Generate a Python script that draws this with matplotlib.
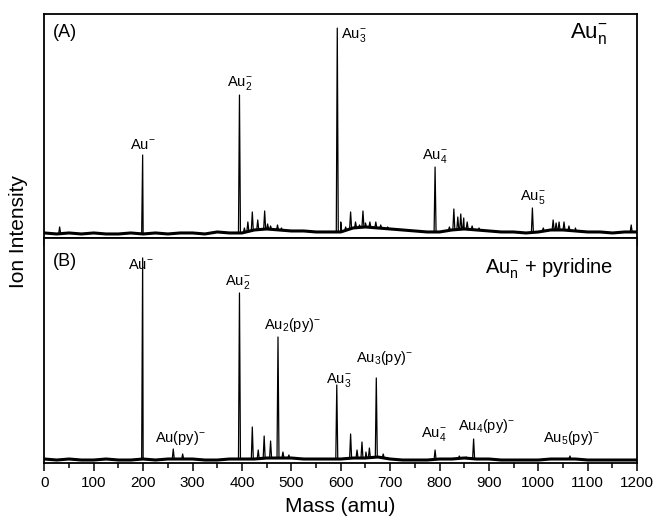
import numpy as np
import matplotlib
matplotlib.use('Agg')
import matplotlib.pyplot as plt
from matplotlib.ticker import MultipleLocator

plt.rcParams['font.family'] = ['Liberation Sans', 'DejaVu Sans']
plt.rcParams['mathtext.fontset'] = 'custom'
plt.rcParams['mathtext.rm'] = 'Liberation Sans'
plt.rcParams['mathtext.it'] = 'Liberation Sans:italic'

# ---- panel A: bare Au_n- clusters ----
a_peak_mass = [31, 199, 395, 405, 412, 421, 432, 446, 452, 458, 472, 480,
               593, 600, 610, 620, 630, 638, 645, 650, 659, 671, 681, 695,
               791, 820, 829, 837, 843, 849, 856, 866, 880,
               988, 1010, 1030, 1036, 1042, 1052, 1062, 1075, 1188]
a_peak_int = [11, 83, 143, 10, 16, 26, 18, 27, 14, 12, 13, 10,
              210, 16, 11, 26, 16, 13, 27, 15, 16, 16, 13, 11,
              71, 11, 29, 21, 24, 20, 16, 12, 10,
              30, 10, 18, 15, 16, 16, 12, 10, 13]
a_base_mass = [0, 25, 50, 75, 100, 125, 150, 175, 200, 225, 250, 275, 300, 325, 350,
               375, 400, 425, 450, 475, 500, 525, 550, 575, 600, 625, 650, 675, 700,
               725, 750, 775, 800, 825, 850, 875, 900, 925, 950, 975, 1000, 1025,
               1050, 1075, 1100, 1125, 1150, 1175, 1200]
a_base_int = [5, 4, 5, 4, 5, 4, 4, 5, 4, 5, 4, 5, 5, 4, 6,
              5, 5, 8, 9, 8, 7, 7, 6, 6, 6, 10, 11, 10, 9,
              8, 7, 6, 6, 8, 9, 8, 7, 6, 6, 5, 6, 8,
              8, 7, 6, 6, 5, 6, 6]

# ---- panel B: Au_n- + pyridine ----
b_peak_mass = [199, 261, 280, 395, 421, 433, 445, 458, 473, 483, 495,
               592, 620, 633, 643, 651, 658, 672, 686,
               791, 840, 854, 869, 1064]
b_peak_int = [205, 14, 9, 170, 36, 13, 27, 22, 126, 11, 8,
              78, 29, 13, 21, 11, 15, 85, 9,
              13, 7, 6, 24, 7]
b_base_mass = a_base_mass
b_base_int = [4, 3, 4, 3, 3, 4, 3, 3, 4, 3, 4, 4, 4, 3, 3,
              4, 4, 4, 5, 5, 5, 4, 4, 4, 4, 5, 5, 6, 4,
              3, 3, 3, 4, 4, 5, 4, 4, 3, 3, 3, 3, 4,
              4, 4, 3, 3, 3, 3, 3]

# labels: (text, mass, intensity, ha)
a_labels = [(r'Au$^{-}$', 199, 86, 'center'),
            (r'Au$_2^{-}$', 395, 146, 'center'),
            (r'Au$_3^{-}$', 600, 194, 'left'),
            (r'Au$_4^{-}$', 791, 73, 'center'),
            (r'Au$_5^{-}$', 988, 32, 'center')]
b_labels = [(r'Au$^{-}$', 196, 191, 'center'),
            (r'Au$(\mathrm{py})^{-}$', 276, 16, 'center'),
            (r'Au$_2^{-}$', 392, 172, 'center'),
            (r'Au$_2(\mathrm{py})^{-}$', 502, 129, 'center'),
            (r'Au$_3^{-}$', 597, 74, 'center'),
            (r'Au$_3(\mathrm{py})^{-}$', 688, 96, 'center'),
            (r'Au$_4^{-}$', 789, 20, 'center'),
            (r'Au$_4(\mathrm{py})^{-}$', 896, 28, 'center'),
            (r'Au$_5(\mathrm{py})^{-}$', 1068, 16, 'center')]

fig = plt.figure(figsize=(6.55, 5.23), dpi=100, facecolor='white')
ax1 = fig.add_axes([0.0677, 0.545, 0.905, 0.428])
ax2 = fig.add_axes([0.0677, 0.1147, 0.905, 0.4303])


def spectrum(pm, pi, bm, bi, w=2.0):
    # stitch baseline readings and peak apexes into one trace
    xs, ys = list(bm), list(bi)
    for m, h in zip(pm, pi):
        b = np.interp(m, bm, bi)
        xs += [m - w, m, m + w]
        ys += [b, h, b]
    order = np.argsort(xs, kind='stable')
    return np.asarray(xs)[order], np.asarray(ys)[order]


def draw_panel(ax, pm, pi, bm, bi, ymax):
    x, y = spectrum(pm, pi, bm, bi)
    ax.plot(bm, bi, color='black', lw=2.2, solid_joinstyle='round')
    ax.plot(x, y, color='black', lw=0.9)
    ax.set_xlim(0, 1200)
    ax.set_ylim(0, ymax)
    ax.set_yticks([])
    ax.xaxis.set_major_locator(MultipleLocator(100))
    ax.xaxis.set_minor_locator(MultipleLocator(50))
    ax.tick_params(axis='x', which='major', direction='out', length=6, width=1.1,
                   labelsize=11, pad=3)
    ax.tick_params(axis='x', which='minor', direction='out', length=3.5, width=1.1)
    for s in ax.spines.values():
        s.set_linewidth(1.3)


draw_panel(ax1, a_peak_mass, a_peak_int, a_base_mass, a_base_int, 224)
draw_panel(ax2, b_peak_mass, b_peak_int, b_base_mass, b_base_int, 225)
ax1.set_xticklabels([])

for txt, m, y, ha in a_labels:
    ax1.text(m, y, txt, ha=ha, va='bottom', fontsize=10.5)
for txt, m, y, ha in b_labels:
    ax2.text(m, y, txt, ha=ha, va='bottom', fontsize=10.5)

ax1.text(18, 206, '(A)', fontsize=13, va='center', ha='left')
ax1.text(1140, 205, r'Au$_\mathrm{n}^{-}$', fontsize=16, va='center', ha='right')
ax2.text(18, 201, '(B)', fontsize=13, va='center', ha='left')
ax2.text(1152, 194, r'Au$_\mathrm{n}^{-}$ + pyridine', fontsize=14.5, va='center', ha='right')

fig.text(0.028, 0.558, 'Ion Intensity', rotation=90, fontsize=15, va='center', ha='center')
fig.text(0.52, 0.031, 'Mass (amu)', fontsize=15, va='center', ha='center')

fig.savefig('out.png', dpi=100, facecolor='white')
